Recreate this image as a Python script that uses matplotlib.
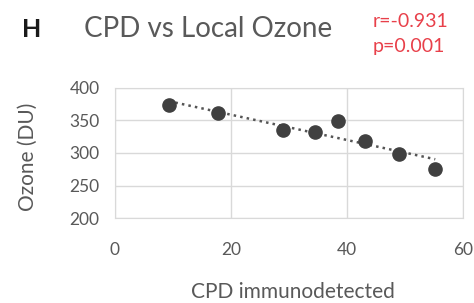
import numpy as np
import matplotlib.pyplot as plt

# data
cpd = [9.3, 17.8, 28.9, 34.5, 38.4, 43.1, 49.0, 55.2]
ozone = [374, 361, 336, 332, 349, 318, 299, 276]
x_ticks = [0, 20, 40, 60]
y_ticks = [200, 250, 300, 350, 400]

plt.rcParams['font.family'] = ['Lato', 'DejaVu Sans']
grey = '#595959'

fig = plt.figure(figsize=(4.74, 3.03), dpi=100)
ax = fig.add_axes([0.2426, 0.2805, 0.7344, 0.4291])

# linear trend
k, b = np.polyfit(cpd, ozone, 1)
xt = np.array([min(cpd), max(cpd)])
ax.plot(xt, k * xt + b, ':', color='#555555', lw=1.8, zorder=2)
ax.plot(cpd, ozone, 'o', color='#404040', ms=9.5, zorder=3)

ax.set_xlim(0, 60)
ax.set_ylim(200, 400)
ax.set_xticks(x_ticks)
ax.set_yticks(y_ticks)
ax.grid(True, color='#d9d9d9', lw=1.0)
ax.set_axisbelow(True)
for s in ax.spines.values():
    s.set_color('#d9d9d9')
ax.tick_params(length=0, colors=grey, labelsize=12.5)
ax.tick_params(axis='y', pad=11)
ax.tick_params(axis='x', pad=17)
ax.set_xlabel('CPD immunodetected', color=grey, fontsize=15)
ax.set_ylabel('Ozone (DU)', color=grey, fontsize=15)
ax.xaxis.set_label_coords(0.51, -0.57)
ax.xaxis.label.set_va('center')
ax.yaxis.set_label_coords(-0.25, 0.47)
ax.yaxis.label.set_va('center')

fig.text(0.046, 0.903, 'H', fontsize=18, fontweight='bold', color='#1a1a1a',
         ha='left', va='center')
fig.text(0.178, 0.903, 'CPD vs Local Ozone', fontsize=20, color=grey,
         ha='left', va='center')
fig.text(0.787, 0.928, 'r=-0.931', fontsize=14, color='#e8404a',
         ha='left', va='center')
fig.text(0.787, 0.848, 'p=0.001', fontsize=14, color='#e8404a',
         ha='left', va='center')

fig.savefig('out.png', dpi=100)
